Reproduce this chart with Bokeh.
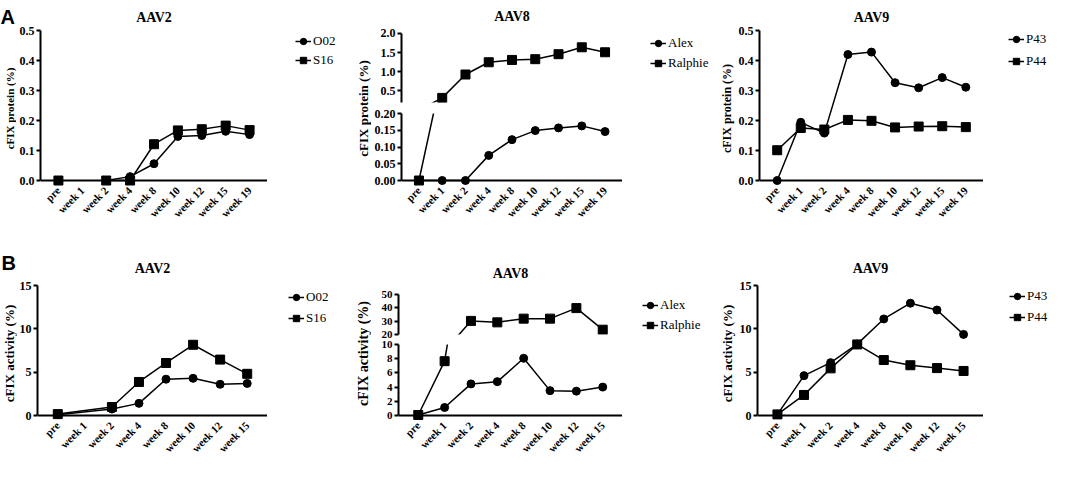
import math
import numpy as np
from bokeh.plotting import figure
from bokeh.layouts import row, column
from bokeh.models import (FactorRange, Range1d, FixedTicker, Legend, LegendItem,
                          Title, NumeralTickFormatter, Span)
from bokeh.embed import file_html
from bokeh.resources import INLINE

NaN = float("nan")

# ---------------- data ----------------
weeks_protein = ["pre", "week 1", "week 2", "week 4", "week 8", "week 10", "week 12", "week 15", "week 19"]
weeks_activity = ["pre", "week 1", "week 2", "week 4", "week 8", "week 10", "week 12", "week 15"]

# A: cFIX protein (%)
protein_aav2_O02 = [0.0, NaN, 0.0, 0.013, 0.056, 0.147, 0.150, 0.164, 0.153]
protein_aav2_S16 = [0.0, NaN, 0.0, 0.0, 0.121, 0.167, 0.171, 0.183, 0.168]
protein_aav8_Alex = [0.0, 0.0, 0.0, 0.075, 0.122, 0.149, 0.157, 0.163, 0.146]
protein_aav8_Ralphie = [0.0, 0.32, 0.93, 1.25, 1.31, 1.33, 1.46, 1.64, 1.51]
protein_aav9_P43 = [0.0, 0.194, 0.158, 0.420, 0.428, 0.326, 0.309, 0.343, 0.311]
protein_aav9_P44 = [0.101, 0.175, 0.170, 0.202, 0.199, 0.177, 0.180, 0.181, 0.178]

# B: cFIX activity (%)
activity_aav2_O02 = [0.10, NaN, 0.75, 1.40, 4.19, 4.29, 3.60, 3.70]
activity_aav2_S16 = [0.16, NaN, 0.98, 3.87, 6.06, 8.16, 6.45, 4.81]
activity_aav8_Alex = [0.07, 1.13, 4.45, 4.77, 8.06, 3.50, 3.43, 4.00]
activity_aav8_Ralphie = [0.07, 7.65, 30.2, 29.1, 31.9, 31.9, 39.8, 23.6]
activity_aav9_P43 = [0.13, 4.60, 6.10, 8.24, 11.14, 12.96, 12.17, 9.36]
activity_aav9_P44 = [0.13, 2.37, 5.44, 8.20, 6.40, 5.80, 5.47, 5.14]

ticks_protein = [0.0, 0.1, 0.2, 0.3, 0.4, 0.5]
ticks_protein_aav8_low = [0.0, 0.05, 0.10, 0.15, 0.20]
ticks_protein_aav8_high = [0.5, 1.0, 1.5, 2.0]
ticks_activity = [0, 5, 10, 15]
ticks_activity_aav8_low = [0, 2, 4, 6, 8, 10]
ticks_activity_aav8_high = [20, 30, 40, 50]

SERIF = "Liberation Serif"
SANS = "Liberation Sans"

# row geometry (shared top / bottom borders so frames line up in each row)
HA, TA, BA = 228, 29, 42
HB, TB, BB = 235, 57, 42


def xrange_for(cats):
    return FactorRange(factors=list(cats), range_padding=0.5 / len(cats), range_padding_units="percent")


def new_fig(w, h, xr, ylo, yhi, mbl, mbt, mbb, title=None, x_axis=True, tstandoff=8):
    kw = {}
    if not x_axis:
        kw["x_axis_location"] = None
    p = figure(width=w, height=h, x_range=xr, y_range=Range1d(ylo, yhi),
               output_backend="svg", toolbar_location=None, title=title,
               min_border_left=mbl, min_border_right=0, min_border_top=mbt, min_border_bottom=mbb, **kw)
    p.grid.visible = False
    p.outline_line_color = None
    p.background_fill_color = "white"
    p.border_fill_color = "white"
    if title:
        p.title.align = "center"
        p.title.text_font = SERIF
        p.title.text_font_style = "bold"
        p.title.text_font_size = "14px"
        p.title.text_color = "black"
        p.title.standoff = tstandoff
    return p


def style_y(p, ticks, fmt, bounds, size, label=None, label_size=None):
    ax = p.yaxis[0]
    ax.ticker = FixedTicker(ticks=ticks)
    ax.formatter = NumeralTickFormatter(format=fmt)
    ax.bounds = bounds
    ax.axis_line_width = 2
    ax.axis_line_color = "black"
    ax.major_tick_line_width = 2
    ax.major_tick_line_color = "black"
    ax.major_tick_in = 0
    ax.major_tick_out = 4
    ax.minor_tick_line_color = None
    ax.major_label_text_font = SERIF
    ax.major_label_text_font_style = "bold"
    ax.major_label_text_font_size = size
    ax.major_label_text_color = "black"
    ax.major_label_standoff = 2
    if label:
        ax.axis_label = label
        ax.axis_label_text_font = SERIF
        ax.axis_label_text_font_style = "bold"
        ax.axis_label_text_font_size = label_size
        ax.axis_label_text_color = "black"
        ax.axis_label_standoff = 2


def style_x(p):
    ax = p.xaxis[0]
    ax.major_label_orientation = math.pi / 4
    ax.major_tick_line_color = None
    ax.major_tick_out = 0
    ax.major_tick_in = 0
    ax.minor_tick_line_color = None
    ax.axis_line_color = None
    ax.major_label_text_font = SERIF
    ax.major_label_text_font_style = "bold"
    ax.major_label_text_font_size = "11px"
    ax.major_label_text_color = "black"
    ax.major_label_standoff = 2
    # baseline of the x axis drawn at y = 0
    p.add_layout(Span(location=0, dimension="width", line_color="black", line_width=2))


def add_series(p, cats, vals, marker, size, connect_gaps=False, lo=None, hi=None):
    y = np.array(vals, dtype=float)
    x = list(cats)
    if connect_gaps:
        keep = ~np.isnan(y)
        lx = [c for c, k in zip(x, keep) if k]
        ly = y[keep]
    else:
        lx, ly = x, y
    p.line(lx, ly, line_color="black", line_width=1.5)
    my = y
    if lo is not None:
        my = np.where((y >= lo) & (y <= hi), y, np.nan)
    p.scatter(x, my, marker=marker, size=size, fill_color="black", line_color="black")


def legend_fig(w, h, mbt, mbb, entries, left, top, spacing):
    p = figure(width=w, height=h, x_range=Range1d(0, 1), y_range=Range1d(0, 1),
               output_backend="svg", toolbar_location=None, x_axis_location=None, y_axis_location=None,
               min_border_left=left, min_border_right=0, min_border_top=mbt, min_border_bottom=mbb)
    p.grid.visible = False
    p.outline_line_color = None
    p.border_fill_color = "white"
    p.background_fill_color = "white"
    items = []
    for lab, marker, size in entries:
        # legend-only renderers: a single missing value, so nothing is drawn in the frame
        rl = p.line(x=[NaN], y=[NaN], line_color="black", line_width=1.5)
        rm = p.scatter(x=[NaN], y=[NaN], marker=marker, size=size, fill_color="black", line_color="black")
        items.append(LegendItem(label=lab, renderers=[rl, rm]))
    leg = Legend(items=items, location="top_left", orientation="vertical", spacing=spacing,
                 padding=0, margin=top, border_line_color=None, background_fill_alpha=0,
                 glyph_width=16, glyph_height=18, label_height=18, label_standoff=2,
                 label_text_font=SERIF, label_text_font_size="13px", label_text_color="black")
    p.add_layout(leg)
    return p


def label_fig(w, h, mbt, mbb, text, size, letter=None, letter_standoff=0):
    p = figure(width=w, height=h, x_range=Range1d(0, 1), y_range=Range1d(0, 1),
               output_backend="svg", toolbar_location=None, x_axis_location=None, y_axis_location=None,
               min_border_left=w - 1, min_border_right=0, min_border_top=mbt, min_border_bottom=mbb)
    p.grid.visible = False
    p.outline_line_color = None
    p.border_fill_color = "white"
    p.background_fill_color = "white"
    p.add_layout(Title(text=text, align="center", text_font=SERIF, text_font_style="bold",
                       text_font_size=size, text_color="black", standoff=0), "left")
    if letter:
        p.add_layout(Title(text=letter, align="left", offset=-(w - 1), text_font=SANS,
                           text_font_style="bold", text_font_size="20px", text_color="black",
                           standoff=letter_standoff), "above")
    return p


# ---------------- Row A ----------------
a1lab = label_fig(16, HA, TA, BA, "cFIX protein (%)", "11px", letter="A", letter_standoff=6)
a1 = new_fig(251, HA, xrange_for(weeks_protein), -0.0199, 0.5, 21, TA, BA, title="AAV2", tstandoff=12)
style_y(a1, ticks_protein, "0.0", (0, 0.5), "12px")
style_x(a1)
add_series(a1, weeks_protein, protein_aav2_O02, "circle", 8)
add_series(a1, weeks_protein, protein_aav2_S16, "square", 9)
a1leg = legend_fig(84, HA, TA, BA, [("O02", "circle", 8), ("S16", "square", 9)], 26, 2, 1)

xr_a8 = xrange_for(weeks_protein)
a2u = new_fig(251, 107, xr_a8, 0.2, 2.104, 27, TA, 5, title="AAV8", x_axis=False, tstandoff=12)
style_y(a2u, ticks_protein_aav8_high, "0.0", (0.2, 2.0), "12px")
add_series(a2u, weeks_protein, protein_aav8_Alex, "circle", 8, lo=0.2, hi=2.0)
add_series(a2u, weeks_protein, protein_aav8_Ralphie, "square", 9, lo=0.2, hi=2.0)

a2l = new_fig(251, HA - 107, xr_a8, -0.0179, 0.2, 27, 6, BA)
style_y(a2l, ticks_protein_aav8_low, "0.00", (0, 0.2), "12px")
style_x(a2l)
add_series(a2l, weeks_protein, protein_aav8_Alex, "circle", 8, lo=0.0, hi=0.2)
add_series(a2l, weeks_protein, protein_aav8_Ralphie, "square", 9, lo=0.0, hi=0.2)

a2lab = label_fig(20, HA, TA, BA, "cFIX protein (%)", "13px")
a2leg = legend_fig(94, HA, TA, BA, [("Alex", "circle", 8), ("Ralphie", "square", 9)], 24, 4, 2)

a3 = new_fig(267, HA, xrange_for(weeks_protein), -0.0199, 0.5, 37, TA, BA, title="AAV9", tstandoff=12)
style_y(a3, ticks_protein, "0.0", (0, 0.5), "12px", "cFIX protein (%)", "12px")
style_x(a3)
add_series(a3, weeks_protein, protein_aav9_P43, "circle", 8)
add_series(a3, weeks_protein, protein_aav9_P44, "square", 9)
a3leg = legend_fig(66, HA, TA, BA, [("P43", "circle", 8), ("P44", "square", 9)], 25, 0, 4)

# ---------------- Row B ----------------
b1lab = label_fig(16, HB, TB, BB, "cFIX activity (%)", "13px", letter="B", letter_standoff=23)
b1 = new_fig(251, HB, xrange_for(weeks_activity), -0.692, 15, 21, TB, BB, title="AAV2", tstandoff=19)
style_y(b1, ticks_activity, "0", (0, 15), "12px")
style_x(b1)
add_series(b1, weeks_activity, activity_aav2_O02, "circle", 8, connect_gaps=True)
add_series(b1, weeks_activity, activity_aav2_S16, "square", 9, connect_gaps=True)
b1leg = legend_fig(84, HB, TB, BB, [("O02", "circle", 8), ("S16", "square", 9)], 18, 3, 3)

xr_b8 = xrange_for(weeks_activity)
b2u = new_fig(251, 111, xr_b8, 20, 56.75, 27, TB, 5, title="AAV8", x_axis=False, tstandoff=10)
style_y(b2u, ticks_activity_aav8_high, "0", (20, 50), "11px")
add_series(b2u, weeks_activity, activity_aav8_Alex, "circle", 8, lo=20, hi=50)
add_series(b2u, weeks_activity, activity_aav8_Ralphie, "square", 9, lo=20, hi=50)

b2l = new_fig(251, HB - 111, xr_b8, -0.845, 10, 27, 5, BB)
style_y(b2l, ticks_activity_aav8_low, "0", (0, 10), "11px")
style_x(b2l)
add_series(b2l, weeks_activity, activity_aav8_Alex, "circle", 8, lo=0, hi=10)
add_series(b2l, weeks_activity, activity_aav8_Ralphie, "square", 9, lo=0, hi=10)

b2lab = label_fig(20, HB, TB, BB, "cFIX activity (%)", "14px")
b2leg = legend_fig(94, HB, TB, BB, [("Alex", "circle", 8), ("Ralphie", "square", 9)], 9, 11, 2)

b3 = new_fig(267, HB, xrange_for(weeks_activity), -0.692, 15, 37, TB, BB, title="AAV9", tstandoff=19)
style_y(b3, ticks_activity, "0", (0, 15), "12px", "cFIX activity (%)", "13px")
style_x(b3)
add_series(b3, weeks_activity, activity_aav9_P43, "circle", 8)
add_series(b3, weeks_activity, activity_aav9_P44, "square", 9)
b3leg = legend_fig(66, HB, TB, BB, [("P43", "circle", 8), ("P44", "square", 9)], 24, 2, 3)

top = row(a1lab, a1, a1leg, a2lab, column(a2u, a2l), a2leg, a3, a3leg)
bottom = row(b1lab, b1, b1leg, b2lab, column(b2u, b2l), b2leg, b3, b3leg)
layout = column(top, bottom)

open("out.html", "w").write(file_html(layout, INLINE))
